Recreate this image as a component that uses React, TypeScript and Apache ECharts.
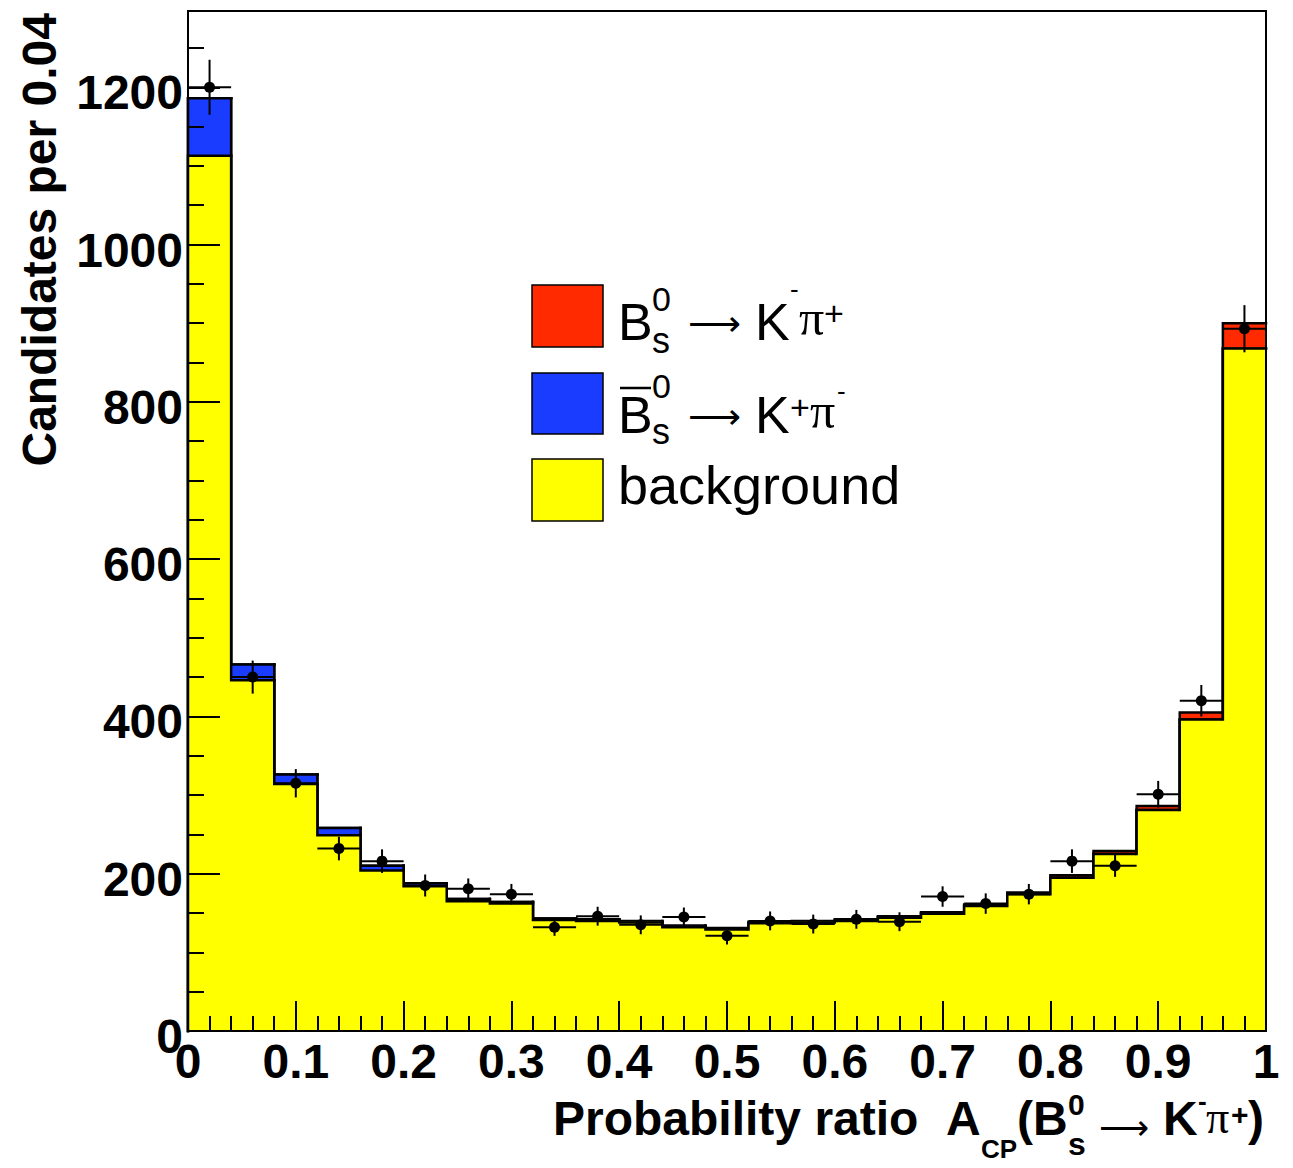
import React, { useEffect, useRef } from "react";
import * as echarts from "echarts";

// Histogram binning: 25 bins of width 0.04 on [0, 1]
const binLow = [
  0.0, 0.04, 0.08, 0.12, 0.16, 0.2, 0.24, 0.28, 0.32, 0.36, 0.4, 0.44, 0.48,
  0.52, 0.56, 0.6, 0.64, 0.68, 0.72, 0.76, 0.8, 0.84, 0.88, 0.92, 0.96,
];
const BIN_WIDTH = 0.04;

// Stacked components (bottom to top)
const background = [
  1113, 446, 314, 249, 204, 184, 165, 162, 141, 140, 138, 132, 129, 137, 138,
  140, 144, 149, 159, 174, 195, 225, 281, 396, 868,
];
const bsbarToKpPim = [
  73, 20, 12, 9, 6, 4, 3, 2, 2, 2, 1, 1, 1, 1, 1, 1, 1, 1, 1, 0, 0, 0, 0, 0, 0,
];
const bsToKmPip = [
  0, 0, 0, 0, 0, 0, 0, 0, 0, 0, 1, 1, 1, 1, 1, 1, 1, 1, 1, 2, 3, 4, 5, 9, 32,
];

// Observed candidates with their statistical errors
const dataCounts = [
  1200, 450, 315, 232, 216, 185, 181, 174, 132, 146, 135, 145, 121, 140, 136,
  142, 139, 171, 162, 174, 216, 210, 301, 420, 893,
];
const dataErrors = [
  35, 21, 18, 15, 15, 14, 13, 13, 11, 12, 12, 12, 11, 12, 12, 12, 12, 13, 13,
  13, 15, 14, 17, 20, 30,
];

const Y_MAX = 1297;
const COLOR_RED = "#ff2a00";
const COLOR_BLUE = "#1a3cff";
const COLOR_YELLOW = "#ffff00";

const SANS = '"Liberation Sans", Arial, Helvetica, sans-serif';
const SERIF = '"Liberation Serif", "Times New Roman", serif';
const ARROW = '"DejaVu Sans", sans-serif';

// cumulative levels of the stack
const levelBg = background.slice();
const levelBlue = background.map((v, i) => v + bsbarToKpPim[i]);
const levelRed = levelBlue.map((v, i) => v + bsToKmPip[i]);

function stackLayer(name: string, levels: number[], fill: string, z: number) {
  return {
    type: "custom",
    name,
    z,
    data: binLow.map((lo, i) => [lo, lo + BIN_WIDTH, levels[i], i === 0 ? 0 : levels[i - 1]]),
    encode: { x: [0, 1], y: 2 },
    renderItem: (_params: any, api: any) => {
      const lo = api.value(0);
      const hi = api.value(1);
      const top = api.value(2);
      const prev = api.value(3);
      const pLo = api.coord([lo, 0]);
      const pHi = api.coord([hi, top]);
      const yPrev = api.coord([lo, prev])[1];
      return {
        type: "group",
        children: [
          {
            type: "rect",
            shape: { x: pLo[0], y: pHi[1], width: pHi[0] - pLo[0], height: pLo[1] - pHi[1] },
            style: { fill, stroke: fill, lineWidth: 1.2 },
          },
          {
            type: "polyline",
            shape: { points: [[pLo[0], yPrev], [pLo[0], pHi[1]], [pHi[0], pHi[1]]] },
            style: { fill: null, stroke: "#000", lineWidth: 2.5, lineJoin: "miter", lineCap: "square" },
          },
        ],
      };
    },
  };
}

function txt(
  text: string,
  x: number,
  y: number,
  size: number,
  weight: string = "normal",
  family: string = SANS,
  align: string = "left",
  rotation = 0
) {
  return {
    type: "text",
    x,
    y,
    rotation,
    z: 100,
    style: {
      text,
      font: `${weight} ${size}px ${family}`,
      fill: "#000",
      textAlign: align,
      align,
      textVerticalAlign: "middle",
      verticalAlign: "middle",
    },
  };
}

function legendBox(y: number, h: number, fill: string) {
  return {
    type: "rect",
    z: 100,
    shape: { x: 532, y, width: 71, height: h },
    style: { fill, stroke: "#000", lineWidth: 1.5 },
  };
}

export default function App() {
  const ref = useRef<HTMLDivElement>(null);

  useEffect(() => {
    if (!ref.current) return;
    const chart = echarts.init(ref.current, null, { renderer: "svg" });

    const axisLabelStyle = {
      color: "#000",
      fontFamily: SANS,
      fontWeight: "bold",
      fontSize: 48,
    };

    const option: any = {
      animation: false,
      backgroundColor: "#fff",
      grid: {
        left: 188,
        right: 27,
        top: 11,
        bottom: 137,
        show: true,
        borderColor: "#000",
        borderWidth: 2,
        backgroundColor: "transparent",
        z: 10,
        containLabel: false,
        outerBoundsMode: "none",
      },
      xAxis: {
        type: "value",
        min: 0,
        max: 1,
        interval: 0.1,
        z: 10,
        splitLine: { show: false },
        axisLine: { show: true, onZero: false, lineStyle: { color: "#000", width: 2 } },
        axisTick: { show: true, inside: true, length: 30, lineStyle: { color: "#000", width: 2 } },
        minorTick: { show: true, splitNumber: 5, length: 15, lineStyle: { color: "#000", width: 2 } },
        axisLabel: { ...axisLabelStyle, margin: 6, showMinLabel: true, showMaxLabel: true },
      },
      yAxis: [
        {
          type: "value",
          min: 0,
          max: Y_MAX,
          interval: 200,
          z: 10,
          splitLine: { show: false },
          axisLine: { show: true, onZero: false, lineStyle: { color: "#000", width: 2 } },
          axisTick: { show: true, inside: true, length: 32, lineStyle: { color: "#000", width: 2 } },
          axisLabel: {
            ...axisLabelStyle,
            margin: 5,
            showMinLabel: true,
            showMaxLabel: false,
            formatter: (v: number) => (v % 200 === 0 ? `{n|${v}}` : ""),
            rich: {
              n: {
                fontFamily: SANS,
                fontWeight: "bold",
                fontSize: 48,
                color: "#000",
                padding: [11, 0, 0, 0],
              },
            },
          },
        },
        {
          type: "value",
          position: "left",
          min: 0,
          max: Y_MAX,
          interval: 50,
          z: 10,
          splitLine: { show: false },
          axisLine: { show: false },
          axisTick: { show: true, inside: true, length: 16, lineStyle: { color: "#000", width: 2 } },
          axisLabel: { show: false },
        },
      ],
      series: [
        stackLayer("B_s^0 → K^-π^+", levelRed, COLOR_RED, 2),
        stackLayer("B̄_s^0 → K^+π^-", levelBlue, COLOR_BLUE, 3),
        stackLayer("background", levelBg, COLOR_YELLOW, 4),
        {
          type: "custom",
          name: "data",
          z: 5,
          data: binLow.map((lo, i) => [lo, lo + BIN_WIDTH, dataCounts[i], dataErrors[i]]),
          encode: { x: [0, 1], y: 2 },
          renderItem: (_params: any, api: any) => {
            const lo = api.value(0);
            const hi = api.value(1);
            const v = api.value(2);
            const e = api.value(3);
            const mid = (lo + hi) / 2;
            const pL = api.coord([lo, v]);
            const pR = api.coord([hi, v]);
            const pM = api.coord([mid, v]);
            const yHi = api.coord([mid, v + e])[1];
            const yLo = api.coord([mid, v - e])[1];
            const line = { stroke: "#000", lineWidth: 2 };
            return {
              type: "group",
              children: [
                { type: "line", shape: { x1: pL[0], y1: pM[1], x2: pR[0], y2: pM[1] }, style: line },
                { type: "line", shape: { x1: pM[0], y1: yHi, x2: pM[0], y2: yLo }, style: line },
                { type: "circle", shape: { cx: pM[0], cy: pM[1], r: 5.5 }, style: { fill: "#000" } },
              ],
            };
          },
        },
      ],
      graphic: [
        // y-axis title
        txt("Candidates per 0.04", 39, 13, 48, "bold", SANS, "right", Math.PI / 2),

        // legend
        legendBox(285, 62, COLOR_RED),
        legendBox(373, 61, COLOR_BLUE),
        legendBox(459, 62, COLOR_YELLOW),

        txt("B", 618, 322, 52),
        txt("0", 652, 299, 34),
        txt("s", 652, 340, 36),
        txt("⟶", 688, 323, 37, "200", ARROW),
        txt("K", 755, 322, 52),
        txt("-", 790, 289, 26),
        txt("π", 799, 318, 50, "normal", SERIF),
        txt("+", 824, 313, 34),

        txt("B", 618, 415, 52),
        {
          type: "line",
          z: 100,
          shape: { x1: 620, y1: 388, x2: 651, y2: 388 },
          style: { stroke: "#000", lineWidth: 2.5 },
        },
        txt("0", 652, 386, 34),
        txt("s", 652, 431, 36),
        txt("⟶", 688, 416, 37, "200", ARROW),
        txt("K", 755, 415, 52),
        txt("+", 790, 407, 34),
        txt("π", 810, 411, 50, "normal", SERIF),
        txt("-", 837, 391, 26),

        txt("background", 618, 485, 54),

        // x-axis title
        txt("Probability ratio", 553, 1118, 48, "bold"),
        txt("A", 946, 1118, 48, "bold"),
        txt("CP", 981, 1149, 26, "bold"),
        txt("(", 1017, 1118, 48, "bold"),
        txt("B", 1033, 1118, 48, "bold"),
        txt("0", 1068, 1104, 30, "bold"),
        txt("s", 1068, 1144, 32, "bold"),
        txt("⟶", 1099, 1128, 35, "200", ARROW),
        txt("K", 1163, 1118, 48, "bold"),
        txt("-", 1198, 1101, 26, "bold"),
        txt("π", 1206, 1117, 46, "normal", SERIF),
        txt("+", 1231, 1114, 30, "bold"),
        txt(")", 1248, 1118, 48, "bold"),
      ],
    };

    chart.setOption(option);
    return () => {
      chart.dispose();
    };
  }, []);

  return (
    <div
      ref={ref}
      style={{ position: "absolute", left: 0, top: 0, width: 1293, height: 1168, background: "#fff" }}
    />
  );
}
